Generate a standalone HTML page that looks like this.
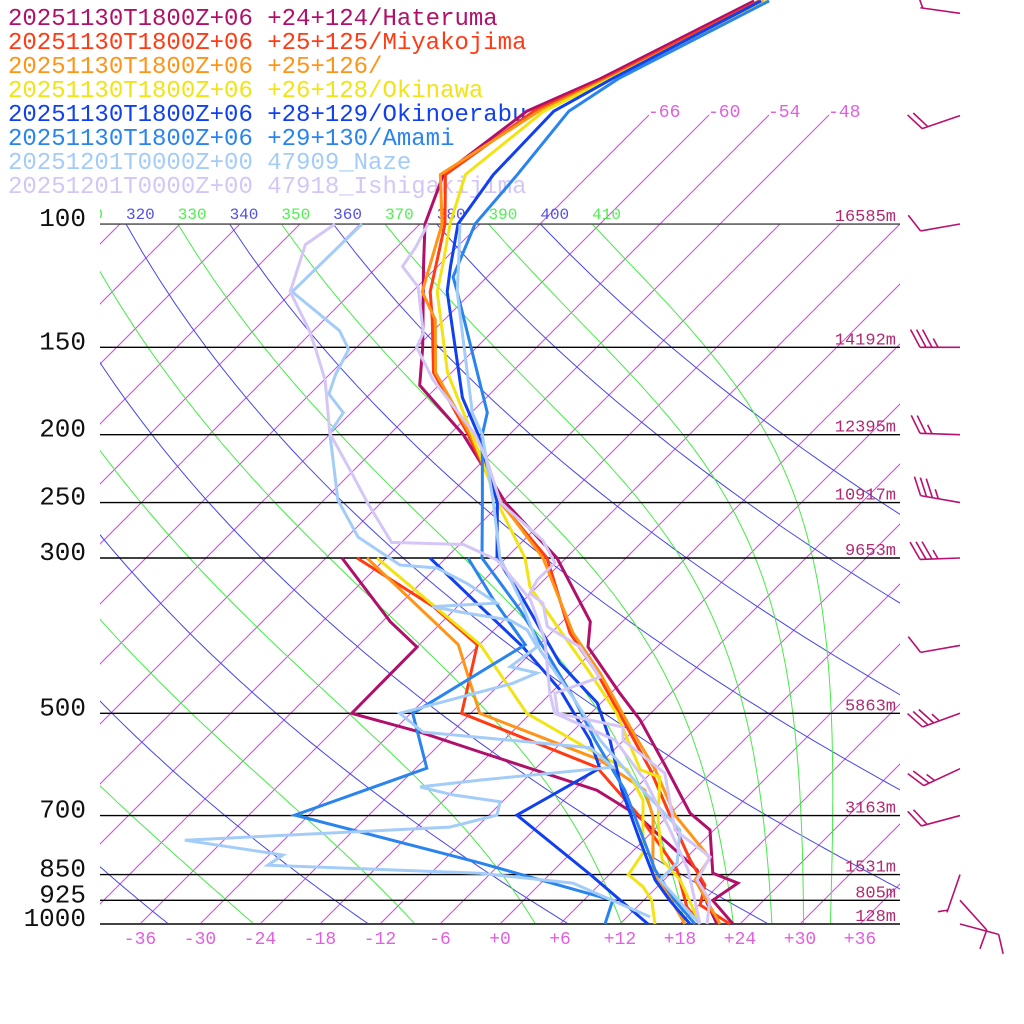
<!DOCTYPE html>
<html><head><meta charset="utf-8"><title>Skew-T</title>
<style>html,body{margin:0;padding:0;background:#fff;}svg{display:block;}</style></head>
<body>
<svg id="chart" width="1024" height="1024" viewBox="0 0 1024 1024" xmlns="http://www.w3.org/2000/svg" font-family="Liberation Mono, monospace">
<defs><clipPath id="plotclip"><rect x="100" y="0" width="800" height="924"/></clipPath></defs>
<g id="bg" clip-path="url(#plotclip)"></g>
<g id="plines"></g>
<g id="labels"></g>
<g id="legend"></g>
<g id="series"></g>
<g id="barbs"></g>
</svg>
<script>
// ---- data: [pressure hPa, temperature C]
const haterumaTemp=[[48,-66.9],[62,-74.5],[69,-78.6],[85,-80.6],[100,-77.5],[115,-73.4],[150,-65.4],[170,-61.9],[200,-52.6],[250,-41.6],[300,-30.9],[370,-21.2],[402,-18.9],[468,-11.1],[511,-6.4],[593,0.6],[694,7.9],[734,11.6],[846,16.2],[874,19.7],[925,18.9],[1000,23.3]];
const haterumaDew=[[300,-52.4],[370,-41.2],[402,-36],[500,-35.9],[532,-27.2],[568,-19.2],[644,-3.7],[699,2.8],[837,14.3],[933,18.6],[1000,21.7]];
const miyakoTemp=[[48,-66.4],[62,-74],[69,-77.9],[85,-80.4],[100,-75.5],[125,-70.2],[137,-67.2],[163,-61.8],[200,-52.1],[250,-42.1],[300,-31.9],[384,-22.1],[438,-15.4],[523,-7],[602,-0.4],[699,6.1],[810,12.6],[880,16.6],[939,18.1],[1000,23]];
const miyakoDew=[[300,-50.9],[352,-38.4],[399,-30.2],[500,-24.9],[597,-6],[703,3.3],[837,12.3],[946,17],[1000,20]];
const p126Temp=[[48,-65.9],[62,-73.7],[69,-77.4],[85,-80.9],[100,-75.8],[125,-71],[137,-66.9],[163,-61.6],[200,-51.9],[250,-42],[300,-32.3],[384,-21.8],[438,-15.1],[523,-6.7],[602,0.1],[699,6.6],[805,14.4],[865,15.1],[1000,22]];
const p126Dew=[[300,-49.9],[399,-32.1],[500,-23.1],[583,-6.4],[644,1.1],[703,4.6],[846,10.2],[894,13.1],[1000,18.5]];
const okinawaTemp=[[48,-65.6],[62,-73.5],[69,-76.9],[85,-78.4],[100,-75],[115,-71.5],[125,-69.5],[163,-60.4],[200,-51.7],[250,-42.4],[300,-34.1],[330,-30.7],[376,-24],[438,-16.1],[500,-9.4],[602,-1.4],[617,1.3],[710,5.4],[810,9.8],[865,13.6],[1000,20]];
const okinawaDew=[[300,-48.9],[399,-29.9],[500,-18.4],[564,-8.4],[602,-2.7],[665,1.9],[792,7.2],[850,7.9],[885,10.6],[925,12.8],[1000,15.5]];
const okinoerabuTemp=[[48,-66.2],[62,-73.3],[69,-75.9],[85,-75.6],[100,-74.2],[115,-70.7],[125,-68.5],[177,-56.4],[200,-51.1],[250,-42.4],[300,-36.9],[344,-30.1],[424,-20.1],[483,-12.4],[546,-7.4],[644,-1.2],[759,5.6],[865,11.1],[925,14.6],[1000,19]];
const okinoerabuDew=[[300,-43.6],[352,-33.7],[402,-25.4],[463,-17.4],[546,-9.4],[599,-5.6],[699,-9.2],[850,4.1],[1000,14.8]];
const amamiTemp=[[48,-65.4],[62,-72.7],[69,-74.4],[85,-73.2],[100,-72.5],[119,-69.4],[125,-67.5],[186,-52.4],[200,-50.7],[250,-43.9],[300,-38.4],[356,-29.4],[406,-22.9],[479,-14.9],[546,-8.9],[644,-0.9],[734,4.6],[837,10.1],[925,15.1],[1000,19.5]];
const amamiDew=[[300,-39.8],[344,-33.1],[399,-25.4],[500,-29.8],[599,-22.9],[699,-31.4],[818,-8.1],[925,8.9],[1000,10.5]];
const nazeTemp=[[100,-74],[115,-69.9],[125,-67.5],[186,-53.9],[200,-50.7],[250,-42.8],[300,-36.6],[344,-30.4],[406,-23.4],[479,-14.9],[546,-8.4],[644,0.9],[734,8.6],[818,11.6],[865,11.6],[1000,20]];
const nazeDew=[[100,-83.8],[125,-84],[142,-75.4],[151,-72.6],[164,-71.4],[175,-70.1],[186,-66.8],[199,-66.1],[248,-58.6],[280,-52.9],[307,-45.9],[310,-41.9],[326,-37.4],[348,-32.4],[352,-38.5],[359,-34.8],[368,-29.4],[380,-26.7],[402,-24],[429,-24.7],[438,-21.4],[453,-22.8],[500,-31.1],[532,-26.9],[560,-8.6],[597,-4.4],[623,-16.4],[637,-21.7],[654,-17.6],[669,-12.2],[699,-11.2],[727,-14.7],[759,-39.9],[797,-28.6],[824,-29.1],[846,-7.1],[874,3.2],[977,14.3]];
const ishigakiTemp=[[100,-77.2],[108,-76.1],[115,-75.5],[123,-71.9],[143,-66.8],[150,-66],[167,-61.1],[200,-51.4],[219,-47.4],[250,-42.1],[283,-34.1],[305,-30.6],[322,-30.7],[337,-30.1],[348,-27.8],[376,-25],[402,-19.7],[444,-14.7],[468,-17.6],[500,-15.3],[523,-7.4],[546,-6.1],[609,1.4],[734,8.1],[802,14.3],[865,15.3],[925,18.6],[1000,20.7]];
const ishigakiDew=[[100,-86.5],[107,-87.4],[125,-84.2],[142,-78.4],[151,-75.9],[167,-71.9],[199,-66.1],[227,-59.9],[250,-55.4],[285,-49],[287,-41.6],[302,-36.7],[344,-29.4],[393,-23.9],[468,-18.1],[500,-15.6],[546,-6.9],[623,0.1],[734,7.6],[837,13.4],[1000,20]];
const seriesNames=["20251130T1800Z+06 +24+124/Hateruma","20251130T1800Z+06 +25+125/Miyakojima","20251130T1800Z+06 +25+126/","20251130T1800Z+06 +26+128/Okinawa","20251130T1800Z+06 +28+129/Okinoerabu","20251130T1800Z+06 +29+130/Amami","20251201T0000Z+00 47909_Naze","20251201T0000Z+00 47918_Ishigakijima"];
const seriesColors=["#b0106a","#ff3a14","#ff9416","#f2e414","#1040f0","#2a84ee","#a4ccf8","#d4c6f6"];
const seriesTemps=[haterumaTemp,miyakoTemp,p126Temp,okinawaTemp,okinoerabuTemp,amamiTemp,nazeTemp,ishigakiTemp];
const seriesDews=[haterumaDew,miyakoDew,p126Dew,okinawaDew,okinoerabuDew,amamiDew,nazeDew,ishigakiDew];
const pressureLevels=[100,150,200,250,300,500,700,850,925,1000];
const heightLabels=["16585m","14192m","12395m","10917m","9653m","5863m","3163m","1531m","805m","128m"];
const tempTicks=[-36,-30,-24,-18,-12,-6,0,6,12,18,24,30,36];
const dryThetas=[240,260,280,300,320,340,360,380,400];
const moistThetas=[230,250,270,290,310,330,350,370,390,410];
const windP=[50,70,100,150,200,250,300,400,500,600,700,850,925,1000];
const windDir=[278,251,260,270,272,280,268,260,250,245,255,199,138,105];
const windSpd=[5,20,10,35,25,35,35,10,35,25,20,5,10,10];

// ---- axes
const NS="http://www.w3.org/2000/svg";
function yOf(p){return 924-304*Math.log(1000/p);}
function xOf(T,p){return 500+10*T+(924-yOf(p));}
function mk(tag,attrs,parent){const e=document.createElementNS(NS,tag);for(const k in attrs)e.setAttribute(k,attrs[k]);parent.appendChild(e);return e;}
const bg=document.getElementById('bg'),pl=document.getElementById('plines'),lab=document.getElementById('labels'),leg=document.getElementById('legend'),ser=document.getElementById('series'),brb=document.getElementById('barbs');

// isotherms
for(let T=-132;T<=42;T+=6){
  const ytop=(T>=-66&&T<=-48)?115:224;
  const l=mk('line',{x1:500+10*T,y1:924,x2:500+10*T+(924-ytop),y2:ytop,stroke:'#d646e6','stroke-width':1},bg);
  
  
  if(ytop===115){
    const t=mk('text',{x:500+10*T+(924-115)-1,y:117,fill:'#e060e0','font-size':18},lab);
    t.textContent=String(T);
    
    
  }
}
// dry adiabats
for(const th of dryThetas){
  let pts=[];for(let p=1000;p>=100;p-=10){pts.push(xOf(th*Math.pow(p/1000,0.2857)-273.15,p).toFixed(1)+','+yOf(p).toFixed(1));}
  const l=mk('polyline',{points:pts.join(' '),fill:'none',stroke:'#4646e6','stroke-width':1},bg);
  
  
}
// moist adiabats (integrated down from 100 hPa)
function es(T){const c=T-273.15;return 6.112*Math.exp(17.67*c/(c+243.5));}
function dTdp(T,p){const e=es(T);const r=0.622*e/(p-e);return (287.04*T+2.501e6*r)/(p*(1005.7+2.501e6*2.501e6*r*0.622/(287.04*T*T)));}
for(const th of moistThetas){
  let T=th*Math.pow(0.1,0.2857),p=100,pts=[];const dp=2;
  pts.push(xOf(T-273.15,p).toFixed(1)+','+yOf(p).toFixed(1));
  while(p<1000){const k1=dTdp(T,p);const k2=dTdp(T+k1*dp,p+dp);T+=0.5*(k1+k2)*dp;p+=dp;
    if(p%10===0)pts.push(xOf(T-273.15,p).toFixed(1)+','+yOf(p).toFixed(1));}
  const l=mk('polyline',{points:pts.join(' '),fill:'none',stroke:'#46ea46','stroke-width':1},bg);
  
  
}
// theta labels at top
const tlg=mk('g',{'clip-path':'url(#plotclip)'},lab);
for(const th of dryThetas.concat(moistThetas)){
  if(th<310)continue;
  const isDry=dryThetas.indexOf(th)>=0;
  const t=mk('text',{x:xOf(th*Math.pow(0.1,0.2857)-273.15,100),y:219,fill:isDry?'#5050e8':'#50ee50','font-size':16},tlg);
  t.textContent=String(th);
  
  
}
// pressure lines & labels
pressureLevels.forEach((p,i)=>{
  const y=yOf(p);
  const l=mk('line',{x1:100,y1:y,x2:900,y2:y,stroke:(p===1000||p===100)?'#444':'#000','stroke-width':(p===1000)?2:1.4},pl);
  
  
  const t=mk('text',{x:86,y:y+2,'text-anchor':'end',fill:'#111','font-size':26},lab);
  t.textContent=String(p);
  
  
  const h=mk('text',{x:896,y:y-3,'text-anchor':'end',fill:'#b02a70','font-size':17},lab);
  h.textContent=heightLabels[i];
  
  
});
tempTicks.forEach(T=>{
  const t=mk('text',{x:500+10*T,y:944,'text-anchor':'middle',fill:'#e060e0','font-size':18},lab);
  t.textContent=(T>=0?'+':'')+T;
  
  
});
// legend
seriesNames.forEach((n,i)=>{
  const t=mk('text',{x:8,y:25+24*i,fill:seriesColors[i],'font-size':24},leg);
  t.textContent=n;
  
  
});
// soundings
function path(arr){return arr.map(d=>xOf(d[1],d[0]).toFixed(1)+','+yOf(d[0]).toFixed(1)).join(' ');}
for(let i=0;i<seriesNames.length;i++){
  const a=mk('polyline',{points:path(seriesTemps[i]),fill:'none',stroke:seriesColors[i],'stroke-width':3,'stroke-linejoin':'miter'},ser);
  
  
  const b=mk('polyline',{points:path(seriesDews[i]),fill:'none',stroke:seriesColors[i],'stroke-width':3,'stroke-linejoin':'miter'},ser);
  
  
}
// wind barbs
windP.forEach((p,i)=>{
  const a=windDir[i]*Math.PI/180;const ux=Math.sin(a),uy=-Math.cos(a);
  const x0=960,y0=yOf(p),L=40;const ex=x0+L*ux,ey=y0+L*uy;
  const r=62*Math.PI/180;const bx=ux*Math.cos(r)-uy*Math.sin(r),by=ux*Math.sin(r)+uy*Math.cos(r);
  const g=mk('g',{stroke:'#b8106e','stroke-width':1.6,fill:'none'},brb);
  
  
  mk('line',{x1:x0,y1:y0,x2:ex,y2:ey},g);
  let s=windSpd[i],k=0;
  while(s>=10){const px=ex-k*6*ux,py=ey-k*6*uy;mk('line',{x1:px,y1:py,x2:px+20*bx,y2:py+20*by},g);s-=10;k++;}
  if(s>=5){if(k===0)k=0.4;const px=ex-k*6*ux,py=ey-k*6*uy;mk('line',{x1:px,y1:py,x2:px+10*bx,y2:py+10*by},g);}
});
</script>
</body></html>
